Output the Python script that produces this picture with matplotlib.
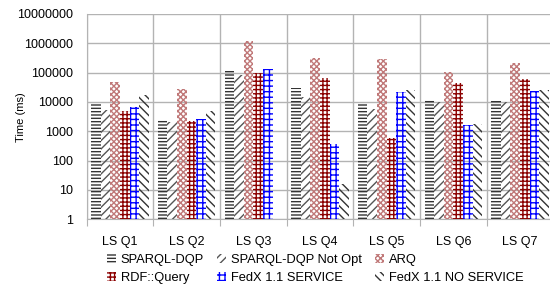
import numpy as np
import matplotlib
matplotlib.use("Agg")
import matplotlib.pyplot as plt
from matplotlib.ticker import FixedLocator, FuncFormatter, NullFormatter

plt.rcParams['font.family'] = ['Liberation Sans', 'DejaVu Sans']
plt.rcParams['hatch.linewidth'] = 1.0

queries = ["LS Q1", "LS Q2", "LS Q3", "LS Q4", "LS Q5", "LS Q6", "LS Q7"]

# time in ms
sparql_dqp = [8300, 2400, 115000, 29000, 8500, 11700, 10800]
sparql_dqp_notopt = [5400, 2000, 83000, 15000, 5600, 10000, 10000]
arq = [48000, 27000, 1230000, 310000, 285000, 103000, 210000]
rdf_query = [5000, 2200, 95000, 64000, 580, 44000, 59000]
fedx_service = [6600, 2600, 133000, 370, 22000, 1650, 24000]
fedx_no_service = [17000, 4900, np.nan, 16, 26000, 1800, 26000]

series = [
    ("SPARQL-DQP", sparql_dqp, "#333333", "-----"),
    ("SPARQL-DQP Not Opt", sparql_dqp_notopt, "#555555", "////"),
    ("ARQ", arq, "#c07878", "xxxxxx"),
    ("RDF::Query", rdf_query, "#8b0000", "++++"),
    ("FedX 1.1 SERVICE", fedx_service, "#0000ff", "+++"),
    ("FedX 1.1 NO SERVICE", fedx_no_service, "#333333", "\\\\\\\\"),
]

fig = plt.figure(figsize=(5.5, 2.89), dpi=100)
ax = fig.add_axes([0.1576, 0.2412, 0.8485, 0.7104])

x = np.arange(len(queries)) + 0.5
w = 0.144
bars = []
for i, (name, vals, col, hatch) in enumerate(series):
    b = ax.bar(x + (i - 2.5) * w, vals, width=w, facecolor="none",
               edgecolor=col, hatch=hatch, linewidth=0, label=name, zorder=3)
    bars.append(b)

ax.set_yscale("log")
ax.set_ylim(1, 1e7)
ax.set_xlim(0, 7)

ax.yaxis.set_major_locator(FixedLocator([10 ** k for k in range(8)]))
ax.yaxis.set_minor_formatter(NullFormatter())
ax.yaxis.set_minor_locator(FixedLocator([]))
ax.yaxis.set_major_formatter(FuncFormatter(lambda v, p: "%d" % round(v)))
ax.tick_params(axis="y", length=0, pad=10, labelsize=9)

ax.xaxis.set_major_locator(FixedLocator(range(8)))
ax.xaxis.set_major_formatter(NullFormatter())
ax.xaxis.set_minor_locator(FixedLocator(x))
ax.set_xticklabels(queries, minor=True)
ax.tick_params(axis="x", which="major", length=5, color="#b3b3b3", direction="out")
ax.tick_params(axis="x", which="minor", length=0, pad=12, labelsize=9)

ax.grid(True, which="major", color="#b3b3b3", linewidth=1, zorder=0)
for s in ["top", "right"]:
    ax.spines[s].set_visible(False)
for s in ["left", "bottom"]:
    ax.spines[s].set_color("#b3b3b3")

ax.set_ylabel("Time (ms)", fontsize=8)
ax.yaxis.set_label_coords(-0.13, 0.5)

# legend: three columns placed by hand, rows read left to right
col_x = [107 / 550, 217 / 550, 375 / 550]
for c in range(3):
    idx = [c, c + 3]
    fig.legend([bars[k] for k in idx], [series[k][0] for k in idx],
               loc="upper left", bbox_to_anchor=(col_x[c], 0.122),
               frameon=False, fontsize=9.3, handlelength=0.7, handleheight=0.7,
               handletextpad=0.35, labelspacing=0.45, borderpad=0,
               borderaxespad=0)

fig.savefig("out.png", dpi=100)
